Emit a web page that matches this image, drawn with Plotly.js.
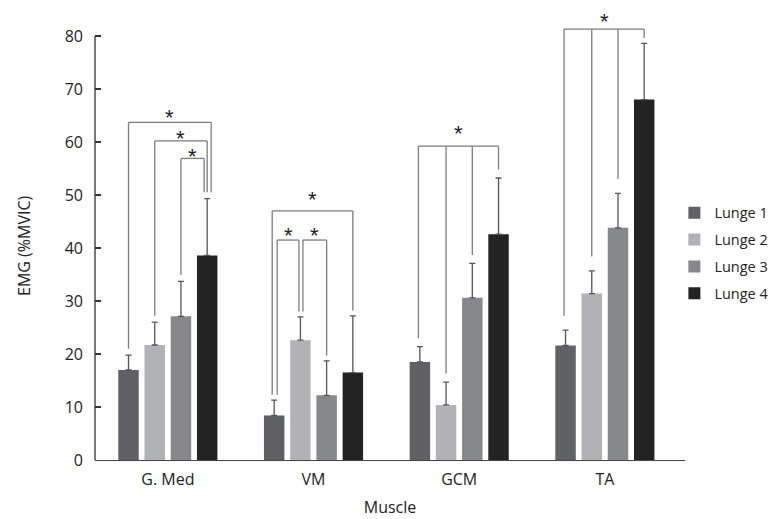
<!DOCTYPE html>
<html>
<head>
<meta charset="utf-8">
<script src="https://cdn.plot.ly/plotly-3.0.1.min.js"></script>
<style>html,body{margin:0;padding:0;background:#fff;}#chart{width:772px;height:519px;}</style>
</head>
<body>
<div id="chart"></div>
<script>
// ---- data ----
var muscles = ["G. Med", "VM", "GCM", "TA"];
var seriesNames = ["Lunge 1", "Lunge 2", "Lunge 3", "Lunge 4"];
var lunge1 = [17.0, 8.4, 18.5, 21.6];
var lunge2 = [21.7, 22.6, 10.4, 31.4];
var lunge3 = [27.1, 12.2, 30.6, 43.8];
var lunge4 = [38.6, 16.5, 42.6, 68.0];
var sd1 = [2.8, 2.9, 2.9, 2.9];
var sd2 = [4.3, 4.4, 4.3, 4.3];
var sd3 = [6.6, 6.5, 6.5, 6.5];
var sd4 = [10.7, 10.7, 10.6, 10.6];
var yTicks = [0, 10, 20, 30, 40, 50, 60, 70, 80];

// significance brackets: muscle index, [bar index, pixel nudge] legs, bracket height, star height
var sigCat = [0, 0, 0, 1, 1, 1, 2, 3];
var sigLegs = [
  [[0, 0], [3, 4]],
  [[1, 0], [3, 0]],
  [[2, 0], [3, -3]],
  [[0, -2], [3, 0]],
  [[0, 3], [1, -1.5]],
  [[1, 2.5], [2, 0]],
  [[0, -1.5], [1, 0], [2, 0], [3, 0]],
  [[0, -1.5], [1, 0], [2, 0], [3, 0]]
];
var sigTop = [63.7, 60.2, 56.9, 47.0, 41.5, 41.5, 59.2, 81.3];
var sigStar = [65.7, 61.7, 58.4, 50.2, 43.4, 43.4, 62.7, 83.8];
var sigGap = [1.2, 1.2, 1.2, 1.0, 1.0, 1.0, 1.6, 2.7];

var colors = ["#606165", "#b1b2b5", "#87888c", "#232323"];
var means = [lunge1, lunge2, lunge3, lunge4];
var sds = [sd1, sd2, sd3, sd4];

var FONT = "Open Sans, Noto Sans, sans-serif";
var bargap = 0.28, bargroupgap = 0.22;
var xRange = [-0.5, 3.55];
var plotW = 772 - 95 - 87;
var unitPerPx = (xRange[1] - xRange[0]) / plotW;
var slot = (1 - bargap) / 4;

var traces = seriesNames.map(function (name, i) {
  return {
    type: "bar",
    name: name,
    x: muscles,
    y: means[i],
    legendgroup: "g" + i,
    marker: { color: colors[i], line: { width: 0 } },
    error_y: {
      type: "data", symmetric: false, array: sds[i],
      arrayminus: sds[i].map(function () { return 0; }),
      color: "#555", thickness: 1.3, width: 3
    },
    hoverinfo: "skip"
  };
});

function barCenter(c, i) { return c + (i - 1.5) * slot; }

var shapes = [];
var annotations = [];
var lineStyle = { color: "#7d7d7d", width: 1.3 };
for (var b = 0; b < sigCat.length; b++) {
  var c = sigCat[b];
  var legs = sigLegs[b];
  var xs = legs.map(function (l) { return barCenter(c, l[0]) + l[1] * unitPerPx; });
  shapes.push({ type: "line", xref: "x", yref: "y", x0: xs[0], x1: xs[xs.length - 1],
    y0: sigTop[b], y1: sigTop[b], line: lineStyle });
  legs.forEach(function (l, k) {
    var errTop = means[l[0]][c] + sds[l[0]][c];
    var bottom = Math.min(errTop + sigGap[b], sigTop[b] - 1.7);
    shapes.push({ type: "line", xref: "x", yref: "y", x0: xs[k], x1: xs[k],
      y0: bottom, y1: sigTop[b], line: lineStyle });
  });
  annotations.push({ xref: "x", yref: "y", x: (xs[0] + xs[xs.length - 1]) / 2, y: sigStar[b],
    text: "*", showarrow: false, yanchor: "middle", yshift: -6,
    font: { family: "Liberation Sans, Arial, sans-serif", size: 22, color: "#1d1d2b" } });
}
// y axis line (only up to the top tick)
shapes.push({ type: "line", xref: "paper", yref: "y", x0: 0, x1: 0, y0: 0, y1: yTicks[yTicks.length - 1],
  line: { color: "#333", width: 1.3 } });

annotations.push({ xref: "paper", yref: "paper", x: -0.12, y: 0.476, xanchor: "center", yanchor: "middle",
  text: "EMG (%MVIC)", textangle: -90, showarrow: false, font: { family: FONT, size: 16, color: "#222" } });

var layout = {
  width: 772, height: 519,
  margin: { l: 95, r: 87, t: 10, b: 59, autoexpand: false },
  paper_bgcolor: "#fff", plot_bgcolor: "#fff",
  barmode: "group", bargap: bargap, bargroupgap: bargroupgap,
  font: { family: FONT, color: "#222" },
  showlegend: true,
  legend: { x: 0.982, y: 0.585, xanchor: "left", yanchor: "top", traceorder: "grouped",
    tracegroupgap: 5, font: { family: FONT, size: 14.5, color: "#222" }, bgcolor: "rgba(0,0,0,0)" },
  xaxis: {
    type: "category", range: xRange, showline: true, linecolor: "#444", linewidth: 1.3,
    ticks: "", showgrid: false, zeroline: false, ticklabelstandoff: 4,
    tickfont: { family: FONT, size: 16, color: "#222" },
    title: { text: "Muscle", standoff: 13, font: { family: FONT, size: 16, color: "#222" } }
  },
  yaxis: {
    range: [0, 84.9], tickvals: yTicks, ticktext: yTicks.map(String), showline: false,
    ticks: "inside", ticklen: 6, tickcolor: "#333", tickwidth: 1.3,
    showgrid: false, zeroline: false, ticklabelstandoff: 11,
    tickfont: { family: FONT, size: 16, color: "#222" }
  },
  shapes: shapes,
  annotations: annotations
};

Plotly.newPlot("chart", traces, layout, { displayModeBar: false, staticPlot: true });
</script>
</body>
</html>
